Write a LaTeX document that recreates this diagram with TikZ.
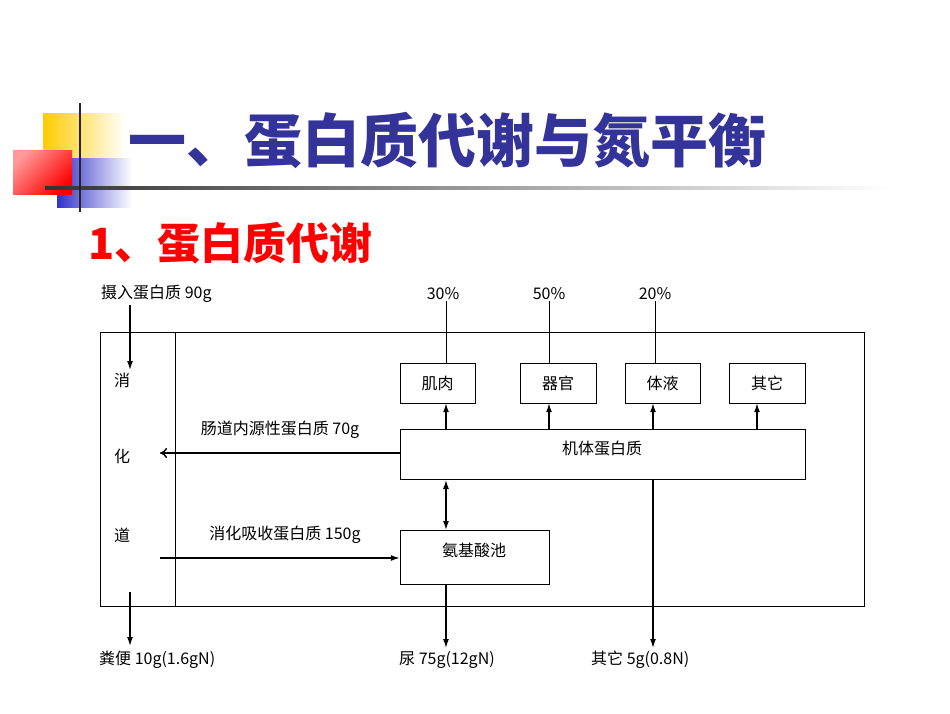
\documentclass[tikz,border=0pt]{standalone}
\usepackage{fontspec}
\setmainfont{Liberation Serif}
\newfontfamily\cjk{Noto Sans CJK SC}
\usetikzlibrary{arrows.meta}
\definecolor{tblue}{HTML}{333399}
\definecolor{yel}{HTML}{FFCC00}
\definecolor{blu}{HTML}{3333CC}
\tikzset{
 lab/.style={font=\cjk\fontsize{16}{18}\selectfont,inner sep=1pt},
 arr/.style={line width=1.4pt,-{Latex[length=9pt,width=6pt]}},
 oarr/.style={line width=1.4pt,-{To[length=7pt,width=10pt]}}
}
\begin{document}
\begin{tikzpicture}[x=1pt,y=-1pt]
\useasboundingbox (0,0) rectangle (950,713);
% decoration
\shade[left color=yel,right color=white] (43,113) rectangle (125,160);
\shade[left color=blu,right color=white] (57,158) rectangle (132,207);
\shade[left color=red!40!white,right color=red,shading angle=45] (13,150) rectangle (72,194);
\shade[left color=black!80,right color=white] (45,186) rectangle (890,189);
\draw[line width=2pt,black!85] (80,103) -- (80,212);
\node[anchor=west,text=tblue,font=\cjk\bfseries\fontsize{58}{64}\selectfont,inner sep=0] (title) at (128,140) {一、蛋白质代谢与氮平衡};
\node[anchor=west,text=red,font=\cjk\bfseries\fontsize{43}{48}\selectfont,inner sep=0] (sub) at (88,243) {1、蛋白质代谢};
% frame
\draw[thin] (100,332) rectangle (864,606);
\draw[thin] (175,332) -- (175,606);
\node[lab] (x1) at (122,380) {消};
\node[lab] (x2) at (122,456) {化};
\node[lab] (x3) at (122,535) {道};
% boxes
\node[draw,thin,minimum width=75,minimum height=40,lab] (jr) at (437.5,383) {肌肉};
\node[draw,thin,minimum width=76,minimum height=40,lab] (qg) at (558,383) {器官};
\node[draw,thin,minimum width=75,minimum height=40,lab] (ty) at (662.5,383) {体液};
\node[draw,thin,minimum width=76,minimum height=40,lab] (qt) at (767,383) {其它};
\node[draw,thin,minimum width=405,minimum height=50,lab] (jt) at (602.5,454) {};
\node[lab] (jtl) at (602,448) {机体蛋白质};
\node[draw,thin,minimum width=149,minimum height=54,lab] (ajs) at (474.5,557) {};
\node[lab] (ajl) at (474,550) {氨基酸池};
% percents
\node[lab] (p1) at (443,294) {30\%};
\node[lab] (p2) at (549,294) {50\%};
\node[lab] (p3) at (655,294) {20\%};
\draw[thin] (p1.south -| 446,0) -- (446,363);
\draw[thin] (p2.south -| 549,0) -- (549,363);
\draw[thin] (p3.south -| 655,0) -- (655,363);
% up arrows
\draw[arr] (446,429) -- (jr.south -| 446,0);
\draw[arr] (549,429) -- (qg.south -| 549,0);
\draw[arr] (653,429) -- (ty.south -| 653,0);
\draw[arr] (757,429) -- (qt.south -| 757,0);
% labels
\node[lab,anchor=west] (in) at (100,294) {摄入蛋白质 90g};
\coordinate (inA) at (130,305);
\coordinate (inB) at (130,370);
\draw[arr] (inA) -- (inB);
\node[lab] (cd) at (280,430) {肠道内源性蛋白质 70g};
\coordinate (cdB) at (160,453);
\draw[oarr] (jt.west |- 0,453) -- (cdB);
\node[lab] (xh) at (285,535) {消化吸收蛋白质 150g};
\coordinate (xhA) at (160,558);
\draw[arr] (xhA) -- (ajs.west |- 0,558);
\draw[line width=1.4pt,{Latex[length=9pt,width=6pt]}-{Latex[length=9pt,width=6pt]}] (446,480) -- (446,530);
\node[lab,anchor=west] (fb) at (98,660) {粪便 10g(1.6gN)};
\node[lab,anchor=west] (ni) at (398,660) {尿 75g(12gN)};
\node[lab,anchor=west] (qo) at (590,660) {其它 5g(0.8N)};
\coordinate (fbA) at (130,592);
\draw[arr] (fbA) -- (130,646);
\draw[arr] (ajs.south -| 446,0) -- (446,648);
\draw[arr] (jt.south -| 653,0) -- (653,648);
\end{tikzpicture}
\end{document}
